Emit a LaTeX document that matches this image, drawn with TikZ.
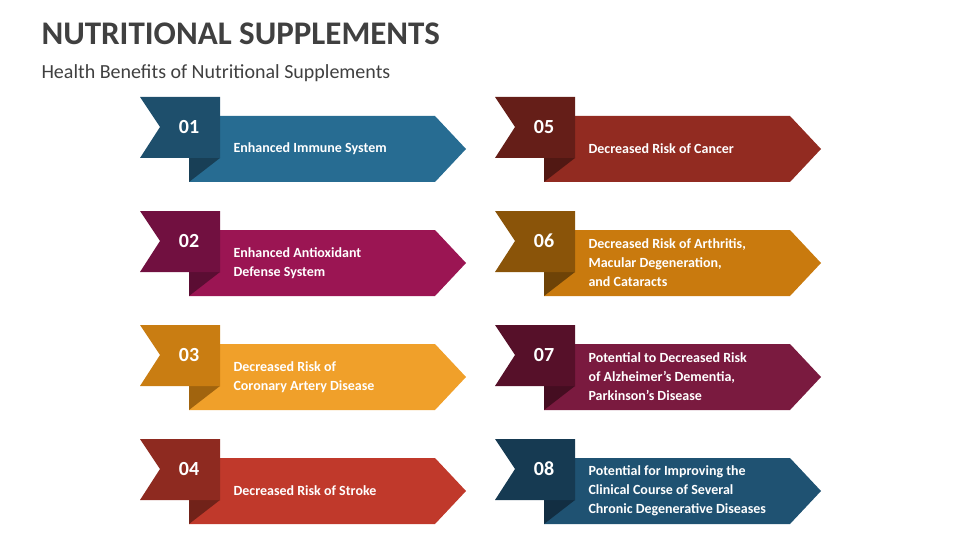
\documentclass[tikz,border=0pt]{standalone}
\usepackage{fontspec}
\setmainfont{Carlito}
\definecolor{m1}{HTML}{276C92}\definecolor{d1}{HTML}{1E4F6C}
\definecolor{m2}{HTML}{9B1553}\definecolor{d2}{HTML}{711040}
\definecolor{m3}{HTML}{F0A02A}\definecolor{d3}{HTML}{C97D12}
\definecolor{m4}{HTML}{C0392B}\definecolor{d4}{HTML}{8E2A20}
\definecolor{m5}{HTML}{922B21}\definecolor{d5}{HTML}{651E18}
\definecolor{m6}{HTML}{C97A0E}\definecolor{d6}{HTML}{8A5409}
\definecolor{m7}{HTML}{7A1A3F}\definecolor{d7}{HTML}{561029}
\definecolor{m8}{HTML}{1F5272}\definecolor{d8}{HTML}{163A52}
\definecolor{ttl}{HTML}{404040}
\tikzset{numtxt/.style={text=white,font=\bfseries\fontsize{20}{22}\selectfont},
itemtxt/.style={text=white,font=\bfseries\fontsize{14}{19}\selectfont,align=left,anchor=west}}
\newcommand\myitem[6]{% x y name num text color
\begin{scope}[shift={(#1,#2)}]
\fill[m#6] (49,-19) -- (295,-19) -- (326,-52) -- (295,-85) -- (49,-85) -- cycle;
\fill[d#6!80!black] (49,-61) -- (80,-61) -- (49,-85) -- cycle;
\fill[d#6] (0,0) -- (80,0) -- (80,-61) -- (0,-61) -- (20,-30) -- cycle;
\node[numtxt] (n#3) at (49,-30) {#4};
\node[itemtxt] (t#3) at (90,-52) {#5};
\end{scope}}
\begin{document}
\begin{tikzpicture}[x=1pt,y=1pt]
\useasboundingbox (0,0) rectangle (960,-540);
\node[anchor=west,text=ttl,font=\bfseries\fontsize{33}{36}\selectfont] (title) at (38,-34) {NUTRITIONAL SUPPLEMENTS};
\node[anchor=west,text=ttl,font=\fontsize{20}{24}\selectfont] (sub) at (38,-73) {Health Benefits of Nutritional Supplements};
\myitem{140}{-97}{a}{01}{Enhanced Immune System}{1}
\myitem{140}{-211}{b}{02}{Enhanced Antioxidant\\Defense System}{2}
\myitem{140}{-325}{c}{03}{Decreased Risk of\\Coronary Artery Disease}{3}
\myitem{140}{-439}{d}{04}{Decreased Risk of Stroke}{4}
\myitem{495}{-97}{e}{05}{Decreased Risk of Cancer}{5}
\myitem{495}{-211}{f}{06}{Decreased Risk of Arthritis,\\Macular Degeneration,\\and Cataracts}{6}
\myitem{495}{-325}{g}{07}{Potential to Decreased Risk\\of Alzheimer's Dementia,\\Parkinson's Disease}{7}
\myitem{495}{-439}{h}{08}{Potential for Improving the\\Clinical Course of Several\\Chronic Degenerative Diseases}{8}
\end{tikzpicture}
\end{document}
